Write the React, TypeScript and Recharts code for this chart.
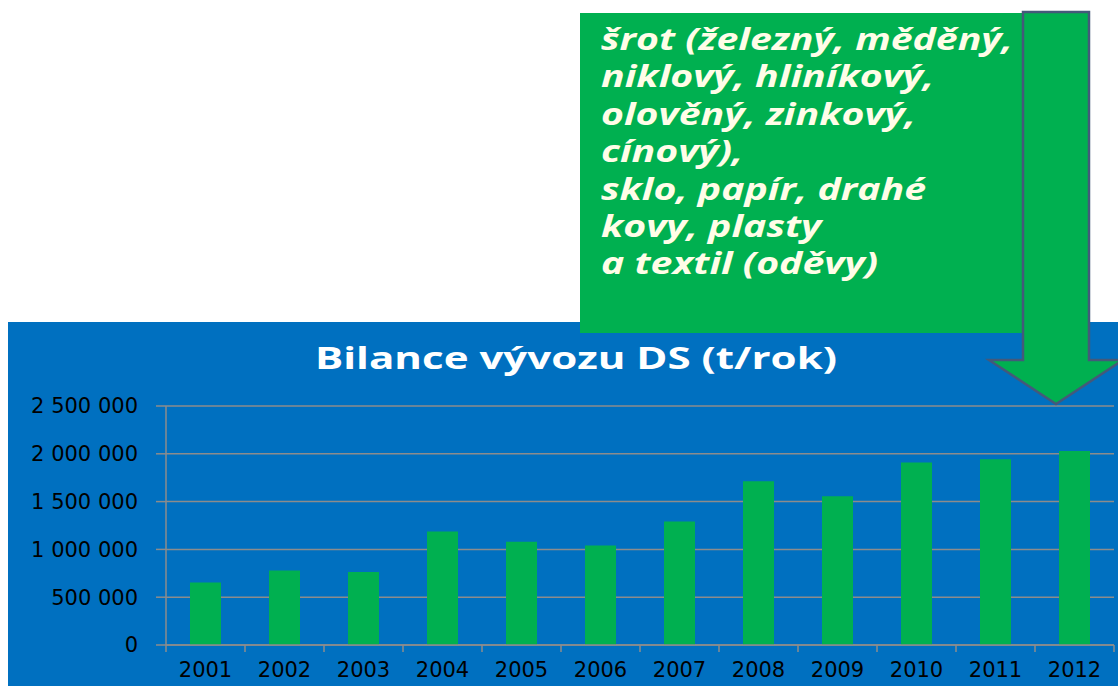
import React from 'react';
import { BarChart, Bar, XAxis, YAxis, CartesianGrid } from 'recharts';

// ---- data ----
const years = ['2001', '2002', '2003', '2004', '2005', '2006', '2007', '2008', '2009', '2010', '2011', '2012'];
const exportTonnes = [655000, 780000, 763000, 1188000, 1079000, 1042000, 1292000, 1713000, 1557000, 1909000, 1943000, 2030000];
const yTicks = [0, 500000, 1000000, 1500000, 2000000, 2500000];
const titleText = 'Bilance vývozu DS (t/rok)';
const noteLines = [
  'šrot (železný, měděný,',
  'niklový, hliníkový,',
  'olověný, zinkový,',
  'cínový),',
  'sklo, papír, drahé',
  'kovy, plasty',
  'a textil (oděvy)',
];

const chartData = years.map((y, i) => ({ year: y, value: exportTonnes[i] }));

// ---- layout / style ----
const PAGE_W = 1118;
const PAGE_H = 686;
const BLUE = '#0070C0';
const GREEN = '#00B050';
const GRID = '#8c8c8c';
const CHART_LEFT = 8;
const CHART_TOP = 322;
const CHART_W = 1110;
const CHART_H = 364;
const Y_AXIS_W = 158;
const MARGIN = { top: 84, right: 4, bottom: 0, left: 0 };
const X_AXIS_H = 41;
const PLOT_W = CHART_W - Y_AXIS_W - MARGIN.right - MARGIN.left;
const BAND = PLOT_W / years.length;
const AXIS_FONT = "'DejaVu Sans', sans-serif";

const fmt = (v: number) => String(v).replace(/\B(?=(\d{3})+(?!\d))/g, ' ');

const XTick = (props: any) => {
  const { x, y, payload, index } = props;
  const half = BAND / 2;
  const last = index === years.length - 1;
  return (
    <g>
      <line x1={x - half} x2={x - half} y1={y - 7} y2={y} stroke={GRID} strokeWidth={1.5} />
      {last && <line x1={x + half} x2={x + half} y1={y - 7} y2={y} stroke={GRID} strokeWidth={1.5} />}
      <text x={x} y={y + 25} textAnchor="middle" fill="#000" fontSize={21} fontFamily={AXIS_FONT}>
        {payload.value}
      </text>
    </g>
  );
};

export default function App() {
  return (
    <div
      style={{
        position: 'fixed',
        left: 0,
        top: 0,
        width: PAGE_W,
        height: PAGE_H,
        background: '#fff',
        overflow: 'hidden',
      }}
    >
      <div
        style={{
          position: 'absolute',
          left: CHART_LEFT,
          top: CHART_TOP,
          width: CHART_W,
          height: CHART_H,
          background: BLUE,
        }}
      >
        <BarChart width={CHART_W} height={CHART_H} data={chartData} margin={MARGIN} barSize={31}>
          <CartesianGrid vertical={false} stroke={GRID} strokeWidth={1.5} strokeDasharray="" />
          <XAxis
            dataKey="year"
            height={X_AXIS_H}
            axisLine={{ stroke: GRID, strokeWidth: 1.5 }}
            tickLine={false}
            tickSize={7}
            tickMargin={0}
            interval={0}
            tick={<XTick />}
          />
          <YAxis
            width={Y_AXIS_W}
            domain={[0, 2500000]}
            ticks={yTicks}
            interval={0}
            tickFormatter={fmt}
            axisLine={{ stroke: GRID, strokeWidth: 1.5 }}
            tickLine={{ stroke: GRID, strokeWidth: 1.5 }}
            tickSize={10}
            tickMargin={18}
            tick={{ fill: '#000', fontSize: 21, fontFamily: AXIS_FONT }}
          />
          <Bar dataKey="value" fill={GREEN} isAnimationActive={false} />
        </BarChart>
      </div>

      {/* green note box */}
      <div
        style={{
          position: 'absolute',
          left: 580,
          top: 13,
          width: 443,
          height: 320,
          background: GREEN,
        }}
      >
        <div
          style={{
            position: 'absolute',
            left: 21,
            top: 7,
            transform: 'scaleX(1.33)',
            transformOrigin: 'left top',
            fontFamily: "'Open Sans', sans-serif",
            fontWeight: 700,
            fontStyle: 'italic',
            fontSize: 29.5,
            lineHeight: '37.4px',
            color: '#fffde8',
            whiteSpace: 'nowrap',
          }}
        >
          {noteLines.map((l) => (
            <div key={l}>{l}</div>
          ))}
        </div>
      </div>

      {/* overlay: title + arrow */}
      <svg
        width={PAGE_W}
        height={PAGE_H}
        style={{ position: 'absolute', left: 0, top: 0, pointerEvents: 'none' }}
      >
        <text
          x={576}
          y={369}
          textAnchor="middle"
          textLength={522}
          lengthAdjust="spacingAndGlyphs"
          fill="#fff"
          fontFamily="'Open Sans', sans-serif"
          fontWeight={700}
          fontSize={30}
        >
          {titleText}
        </text>
        <polygon
          points="1023,12 1089,12 1089,360 1123,360 1056,404 989,360 1023,360"
          fill={GREEN}
          stroke="#44597a"
          strokeWidth={2.5}
          strokeLinejoin="miter"
        />
      </svg>
    </div>
  );
}
